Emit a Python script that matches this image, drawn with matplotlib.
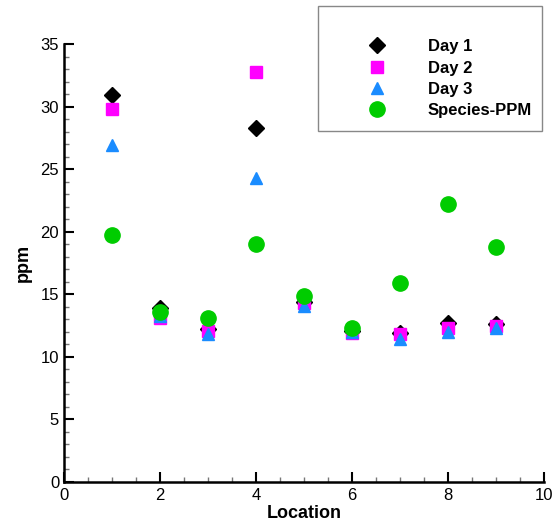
import matplotlib.pyplot as plt
from matplotlib.patches import Rectangle
from matplotlib.ticker import MultipleLocator

plt.rcParams["font.family"] = ["Liberation Sans", "DejaVu Sans"]

location = [1, 2, 3, 4, 5, 6, 7, 8, 9]
day1 = [30.9, 13.9, 12.2, 28.3, 14.4, 12.1, 11.9, 12.7, 12.6]
day2 = [29.8, 13.1, 12.1, 32.8, 14.3, 11.9, 11.8, 12.3, 12.5]
day3 = [26.9, 13.3, 11.8, 24.3, 14.1, 12.0, 11.4, 12.0, 12.3]
species_ppm = [19.7, 13.6, 13.1, 19.0, 14.9, 12.3, 15.9, 22.2, 18.8]

fig = plt.figure(figsize=(5.56, 5.27), dpi=100)
ax = fig.add_axes([64 / 556, 1 - 482 / 527, 480 / 556, 438 / 527])

ax.plot(location, day1, "D", color="black", markersize=8, label="Day 1")
ax.plot(location, day2, "s", color="#ff00ff", markersize=8, label="Day 2")
ax.plot(location, day3, "^", color="#1a8cff", markersize=9, label="Day 3")
ax.plot(location, species_ppm, "o", color="#00cc00", markersize=11, label="Species-PPM")

ax.set_xlim(0, 10)
ax.set_ylim(0, 35)
ax.xaxis.set_major_locator(MultipleLocator(2))
ax.xaxis.set_minor_locator(MultipleLocator(0.5))
ax.yaxis.set_major_locator(MultipleLocator(5))
ax.yaxis.set_minor_locator(MultipleLocator(1))
ax.tick_params(which="major", direction="in", length=7, width=1.5, labelsize=12)
ax.tick_params(which="minor", direction="in", length=3.5, width=1, color="#777777")
ax.tick_params(axis="x", pad=4)

for side in ["top", "right"]:
    ax.spines[side].set_visible(False)
for side in ["left", "bottom"]:
    ax.spines[side].set_linewidth(1.8)

ax.set_xlabel("Location", fontsize=13, fontweight="bold", labelpad=2)
ax.set_ylabel("ppm", fontsize=13, fontweight="bold", labelpad=6)

fig.patches.append(Rectangle((318 / 556, 1 - 131 / 527), 224 / 556, 125 / 527,
                             transform=fig.transFigure, fill=False,
                             edgecolor="#888888", linewidth=1))
fig.legend(loc="upper left", bbox_to_anchor=(356 / 556, 1 - 31 / 527),
           frameon=False, prop={"weight": "bold", "size": 12},
           handlelength=1.5, handletextpad=2.3, labelspacing=0.38,
           borderpad=0, numpoints=1)

fig.savefig("out.png", dpi=100)
